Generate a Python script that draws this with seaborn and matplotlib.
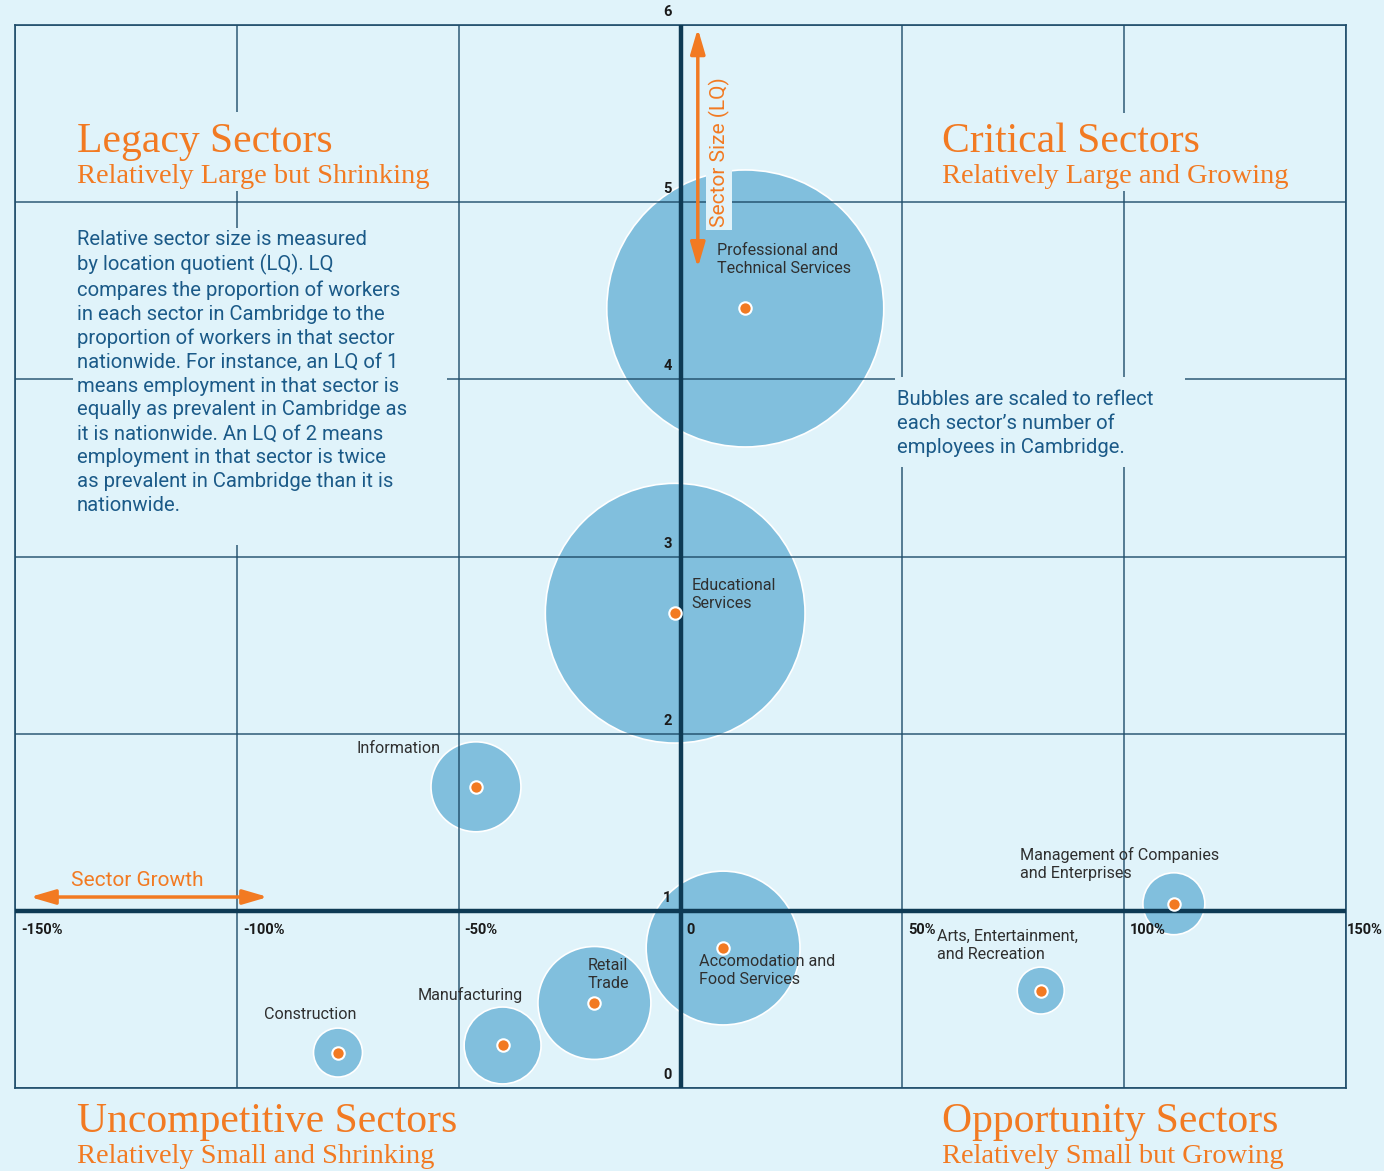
import matplotlib.pyplot as plt
import pandas as pd
import seaborn as sns
from matplotlib.patches import Rectangle

# data
sectors = [
    "Professional and\nTechnical Services",
    "Educational\nServices",
    "Information",
    "Management of Companies\nand Enterprises",
    "Accomodation and\nFood Services",
    "Arts, Entertainment,\nand Recreation",
    "Retail\nTrade",
    "Manufacturing",
    "Construction",
]
growth = [14.6, -1.2, -46.1, 111.2, 9.6, 81.2, -19.4, -40.1, -77.2]  # % change
lq = [4.40, 2.68, 1.70, 1.04, 0.79, 0.55, 0.48, 0.24, 0.20]  # location quotient
employees = [24000, 21100, 2530, 1200, 7400, 690, 3990, 1850, 750]

x_ticks = [-150, -100, -50, 0, 50, 100, 150]
x_tick_labels = ["-150%", "-100%", "-50%", "0", "50%", "100%", "150%"]
y_ticks = [0, 1, 2, 3, 4, 5, 6]
y_tick_labels = ["0", "1", "2", "3", "4", "5", "6"]

quadrants = [
    ("Legacy Sectors", "Relatively Large but Shrinking"),
    ("Critical Sectors", "Relatively Large and Growing"),
    ("Uncompetitive Sectors", "Relatively Small and Shrinking"),
    ("Opportunity Sectors", "Relatively Small but Growing"),
]

note_lq = (
    "Relative sector size is measured\n"
    "by location quotient (LQ). LQ\n"
    "compares the proportion of workers\n"
    "in each sector in Cambridge to the\n"
    "proportion of workers in that sector\n"
    "nationwide. For instance, an LQ of 1\n"
    "means employment in that sector is\n"
    "equally as prevalent in Cambridge as\n"
    "it is nationwide. An LQ of 2 means\n"
    "employment in that sector is twice\n"
    "as prevalent in Cambridge than it is\n"
    "nationwide."
)
note_bubbles = "Bubbles are scaled to reflect\neach sector\u2019s number of\nemployees in Cambridge."

# colours
BG = "#e0f3fa"
BUBBLE = "#81bfdd"
GRID = "#1f4d6a"
AXIS = "#0e3a54"
ORANGE = "#f27a22"
BLUE_TXT = "#1b5a88"
LABEL_TXT = "#2f2f2f"
SANS = ["Roboto", "DejaVu Sans"]
SERIF = ["Liberation Serif", "DejaVu Serif"]

# label offsets from bubble centre, in pixels (left, top of text)
label_offsets = [(-28, 65), (16, 35), (-119, 46), (-154, 57), (-24, -6),
                 (-104, 62), (-7, 45), (-85, 58), (-74, 46)]

W, H = 1384, 1171
fig = plt.figure(figsize=(W / 100, H / 100), dpi=100, facecolor=BG)
ax = fig.add_axes([15 / W, 1 - 1088 / H, 1331 / W, 1063 / H])
ax.set_facecolor(BG)

df = pd.DataFrame({"sector": sectors, "growth": growth, "lq": lq, "employees": employees})

# bubbles: area proportional to employees
max_s = (2 * 138.5 * 0.72) ** 2
sns.scatterplot(data=df, x="growth", y="lq", size="employees",
                sizes=(0, max_s), size_norm=(0, max(employees)),
                color=BUBBLE, edgecolor="white", linewidth=1.2, alpha=1,
                legend=False, ax=ax, zorder=1)
# centre dots
sns.scatterplot(data=df, x="growth", y="lq", s=80, color=ORANGE,
                edgecolor="white", linewidth=1.5, legend=False, ax=ax, zorder=6)

ax.set_xlim(-150, 150)
ax.set_ylim(0, 6)
ax.set_xticks(x_ticks)
ax.set_yticks(y_ticks)
ax.tick_params(length=0, labelbottom=False, labelleft=False)
ax.set_xlabel("")
ax.set_ylabel("")
ax.set_axisbelow(False)
ax.grid(True, color=GRID, lw=1.2, alpha=0.85)
for sp in ax.spines.values():
    sp.set_color(GRID)
    sp.set_linewidth(1.2)

ax.axhline(1, color=AXIS, lw=3.2, zorder=3.5)
ax.axvline(0, color=AXIS, lw=3.2, zorder=3.5)

# tick labels along the crossing axes
for t, lbl in zip(x_ticks, x_tick_labels):
    dx = 1 if t == x_ticks[-1] else 6
    ax.annotate(lbl, xy=(t, 1), xytext=(dx, -12), textcoords="offset pixels",
                ha="left", va="top", fontsize=10.5, fontweight="bold",
                family=SANS, color="#1a1a1a", annotation_clip=False, zorder=7)
for t, lbl in zip(y_ticks, y_tick_labels):
    ax.annotate(lbl, xy=(0, t), xytext=(-9, 6), textcoords="offset pixels",
                ha="right", va="bottom", fontsize=10.5, fontweight="bold",
                family=SANS, color="#1a1a1a", annotation_clip=False, zorder=7)

# background boxes that cut the grid behind the notes
box_kw = dict(transform=ax.transAxes, facecolor=BG, edgecolor="none", zorder=2.8)
ax.add_patch(Rectangle((0.0436, 0.5108), 0.2810, 0.2982, **box_kw))
ax.add_patch(Rectangle((0.6612, 0.5842), 0.2179, 0.0847, **box_kw))
ax.add_patch(Rectangle((0.0436, 0.8438), 0.2705, 0.0743, **box_kw))
ax.add_patch(Rectangle((0.6935, 0.8438), 0.2622, 0.0734, **box_kw))

# bubble labels
for i, row in df.iterrows():
    dx, dy = label_offsets[i]
    ax.annotate(row["sector"], xy=(row["growth"], row["lq"]), xytext=(dx, dy),
                textcoords="offset pixels", ha="left", va="top", fontsize=11.6,
                family=SANS, color=LABEL_TXT, linespacing=1.25, zorder=8)

# quadrant titles
title_pos = [(77, 152), (942, 152), (77, 1132), (942, 1132)]
for (title, sub), (px, py) in zip(quadrants, title_pos):
    fig.text(px / W, 1 - py / H, title, ha="left", va="baseline", fontsize=30,
             family=SERIF, color=ORANGE, zorder=9)
    fig.text(px / W, 1 - (py + 31) / H, sub, ha="left", va="baseline", fontsize=20.5,
             family=SERIF, color=ORANGE, zorder=9)

# notes
fig.text(77 / W, 1 - 230 / H, note_lq, ha="left", va="top", fontsize=14.6,
         family=SANS, color=BLUE_TXT, linespacing=1.32, zorder=9)
fig.text(897 / W, 1 - 390 / H, note_bubbles, ha="left", va="top", fontsize=14.6,
         family=SANS, color=BLUE_TXT, linespacing=1.32, zorder=9)

# axis direction arrows
arrow = dict(arrowstyle="<|-|>,head_length=0.75,head_width=0.22", color=ORANGE,
             lw=2.5, mutation_scale=20, shrinkA=0, shrinkB=0)
ax.annotate("", xy=(3.9, 5.98), xytext=(3.9, 4.63), arrowprops=arrow, zorder=8)
ax.annotate("", xy=(-146.6, 1.078), xytext=(-93.0, 1.078), arrowprops=arrow, zorder=8)
ax.text(8.7, 5.28, "Sector Size (LQ)", rotation=90, ha="center", va="center",
        fontsize=15, family=SANS, color=ORANGE, zorder=8,
        bbox=dict(facecolor=BG, edgecolor="none", pad=2))
ax.text(-122.4, 1.174, "Sector Growth", ha="center", va="center",
        fontsize=15, family=SANS, color=ORANGE, zorder=8)

fig.savefig("out.png", dpi=100, facecolor=BG)
